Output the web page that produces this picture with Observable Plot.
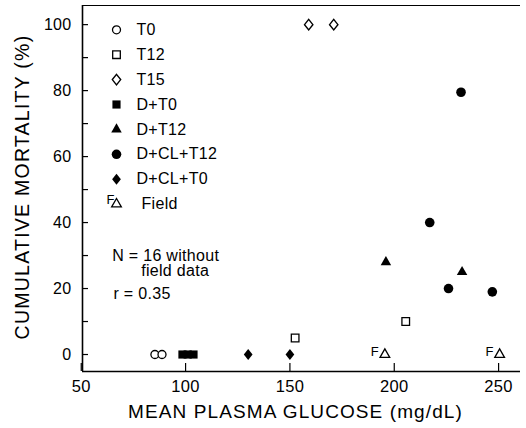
<!DOCTYPE html>
<html><head><meta charset="utf-8">
<script src="https://cdn.jsdelivr.net/npm/d3@7"></script>
<script src="https://cdn.jsdelivr.net/npm/@observablehq/plot@0.6"></script>
<style>
body{margin:0;background:#fff}
svg{font-family:"Liberation Sans",Arial,sans-serif}
svg text{letter-spacing:0.3px}
</style>
</head><body><div id="chart"></div>
<script>
// ---- data ----
const groups = ["T0", "T12", "T15", "D+T0", "D+T12", "D+CL+T12", "D+CL+T0", "Field"];
const t0X = [85.3, 88.7],            t0Y = [0, 0];
const t12X = [152.5, 205.5],         t12Y = [5, 10];
const t15X = [159, 171],             t15Y = [100, 100];
const dT0X = [98.5, 101, 103.8],     dT0Y = [0, 0, 0];
const dT12X = [196, 232.5],          dT12Y = [28, 25];
const dClT12X = [217, 226, 232, 247], dClT12Y = [40, 20, 79.5, 19];
const dClT0X = [130, 150],           dClT0Y = [0, 0];
const fieldX = [195.5, 250.5],       fieldY = [0, 0];
const xTicks = [50, 100, 150, 200, 250];
const yTicks = [0, 20, 40, 60, 80, 100];
const yMinor = [0, 10, 20, 30, 40, 50, 60, 70, 80, 90, 100];
const annotN = ["N = 16 without", "field data"];
const annotR = "r = 0.35";
const xLabel = "MEAN PLASMA GLUCOSE (mg/dL)";
const yLabel = "CUMULATIVE MORTALITY (%)";

const series = {
  "T0": [t0X, t0Y], "T12": [t12X, t12Y], "T15": [t15X, t15Y], "D+T0": [dT0X, dT0Y],
  "D+T12": [dT12X, dT12Y], "D+CL+T12": [dClT12X, dClT12Y], "D+CL+T0": [dClT0X, dClT0Y], "Field": [fieldX, fieldY]
};

// custom diamond (slightly taller than wide)
const diamond = {
  draw(ctx, size) {
    const r = Math.sqrt(size / Math.PI);
    const w = r * 0.95, h = r * 1.2;
    ctx.moveTo(0, -h); ctx.lineTo(w, 0); ctx.lineTo(0, h); ctx.lineTo(-w, 0); ctx.closePath();
  }
};

const styles = {
  "T0":       {symbol: "circle",   r: 4,   fill: "white", stroke: "black", strokeWidth: 1.3},
  "T12":      {symbol: "square",   r: 4.3, fill: "white", stroke: "black", strokeWidth: 1.3},
  "T15":      {symbol: diamond,    r: 4.4, fill: "white", stroke: "black", strokeWidth: 1.4},
  "D+T0":     {symbol: "square",   r: 4.6, fill: "black", stroke: "none"},
  "D+T12":    {symbol: "triangle", r: 3.9, fill: "black", stroke: "none"},
  "D+CL+T12": {symbol: "circle",   r: 4.8, fill: "black", stroke: "none"},
  "D+CL+T0":  {symbol: diamond,    r: 4.6, fill: "black", stroke: "none"},
  "Field":    {symbol: "triangle", r: 3.6, fill: "white", stroke: "black", strokeWidth: 1.3}
};

const xDomain = [50.6, 260.5];
const yDomain = [-5.15, 105.8];

const marks = [];
// tick labels
marks.push(Plot.axisY(yTicks, {tickSize: 0, tickPadding: 11, fontSize: 16, label: null}));
marks.push(Plot.axisX(xTicks, {tickSize: 0, tickPadding: 9, fontSize: 16.5, label: null}));

// data points
for (const g of groups) {
  const [xs, ys] = series[g];
  const data = xs.map((x, i) => ({x, y: ys[i]}));
  marks.push(Plot.dot(data, {x: "x", y: "y", ...styles[g]}));
  if (g === "Field") {
    marks.push(Plot.text(data, {x: "x", y: "y", text: () => "F", dx: -10, dy: -3, fontSize: 13}));
  }
}

// legend
groups.forEach((g, i) => {
  const dy = 24.3 + 24.9 * i;
  marks.push(Plot.dot([g], {frameAnchor: "top-left", dx: 34, dy, ...styles[g]}));
  marks.push(Plot.text([g], {frameAnchor: "top-left", dx: g === "Field" ? 59 : 54, dy, text: d => d,
    textAnchor: "start", lineAnchor: "middle", fontSize: 16}));
  if (g === "Field") {
    marks.push(Plot.text(["F"], {frameAnchor: "top-left", dx: 24, dy: dy - 4, text: d => d, lineAnchor: "middle", fontSize: 13}));
  }
});

// annotations
const annStyle = {frameAnchor: "top-left", text: d => d, textAnchor: "start", lineAnchor: "middle", fontSize: 16};
marks.push(Plot.text([annotN[0]], {...annStyle, dx: 29.7, dy: 250.7}));
marks.push(Plot.text([annotN[1]], {...annStyle, dx: 58.7, dy: 265.5}));
marks.push(Plot.text([annotR], {...annStyle, dx: 31, dy: 288}));

// axis titles
marks.push(Plot.text([xLabel], {frameAnchor: "bottom", textAnchor: "middle", lineAnchor: "middle", dx: -6, dy: 40, text: d => d, fontSize: 19}));
marks.push(Plot.text([yLabel], {frameAnchor: "left", textAnchor: "middle", lineAnchor: "middle", dx: -60, dy: -1.5, rotate: -90, text: d => d, fontSize: 19.5}));

// axis lines and inward ticks, drawn last so nothing covers them
marks.push(Plot.ruleX([xDomain[0]], {stroke: "black", strokeWidth: 1.6}));
marks.push(Plot.ruleY([yDomain[0]], {stroke: "black", strokeWidth: 1.6}));
marks.push(Plot.ruleY([yDomain[1]], {stroke: "black", strokeWidth: 1.2}));
marks.push(Plot.axisY(yMinor, {tickSize: -6, text: null, label: null, strokeWidth: 1.2}));
marks.push(Plot.axisX(xTicks, {tickSize: -8, text: null, label: null, strokeWidth: 1.2}));

const chart = Plot.plot({
  width: 526,
  height: 428,
  marginLeft: 82,
  marginRight: 6,
  marginTop: 5,
  marginBottom: 57,
  style: {background: "white", color: "black", fontFamily: "Liberation Sans, Arial, sans-serif"},
  x: {domain: xDomain},
  y: {domain: yDomain},
  marks
});
// wider letter spacing on the axis titles, as in the lettered original
for (const t of chart.querySelectorAll("text")) {
  if (t.textContent === xLabel) t.style.letterSpacing = "1.1px";
  if (t.textContent === yLabel) t.style.letterSpacing = "1.25px";
}
document.getElementById("chart").appendChild(chart);
</script>
</body></html>
